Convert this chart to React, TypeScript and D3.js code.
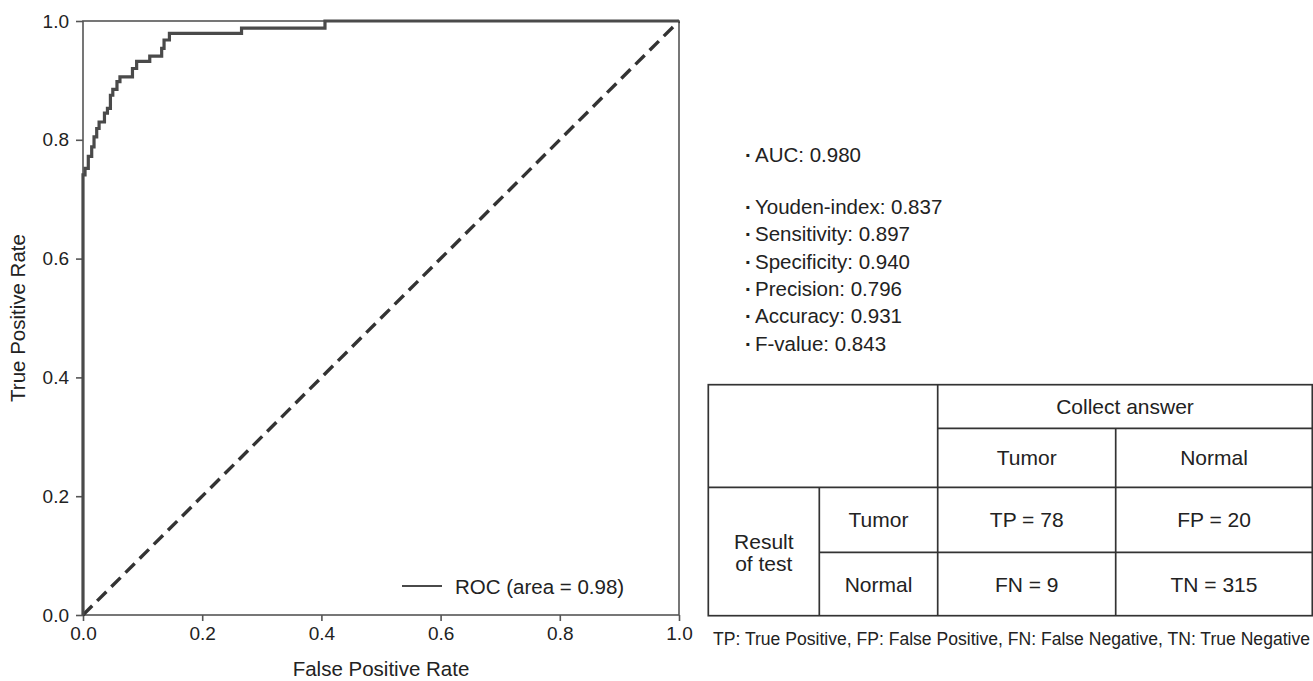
import {useEffect, useRef} from "react";
import * as d3 from "d3";

// ROC corner points, drawn with a step-after curve
const fpr = [0, 0, 0.0034, 0.0089, 0.0146, 0.0185, 0.023, 0.027, 0.036, 0.041, 0.046, 0.05, 0.057, 0.062, 0.083, 0.09, 0.112, 0.132, 0.136, 0.145, 0.266, 0.406, 1.0];
const tpr = [0, 0.741, 0.752, 0.772, 0.788, 0.805, 0.819, 0.83, 0.845, 0.853, 0.875, 0.885, 0.898, 0.906, 0.92, 0.932, 0.941, 0.954, 0.968, 0.979, 0.988, 1.0, 1.0];

const axisTicks = [0, 0.2, 0.4, 0.6, 0.8, 1.0];
const legendLabel = "ROC (area = 0.98)";

const summaryLabels = ["AUC"];
const summaryValues = ["0.980"];
const metricLabels = ["Youden-index", "Sensitivity", "Specificity", "Precision", "Accuracy", "F-value"];
const metricValues = ["0.837", "0.897", "0.940", "0.796", "0.931", "0.843"];

const answerClasses = ["Tumor", "Normal"];
const testClasses = ["Tumor", "Normal"];
const cellNames = [["TP", "FP"], ["FN", "TN"]];
const cellCounts = [[78, 20], [9, 315]];
const footnote = "TP: True Positive, FP: False Positive, FN: False Negative, TN: True Negative";

const FONT = "'Liberation Sans', Arial, Helvetica, sans-serif";

function RocFigure() {
    const ref = useRef<SVGSVGElement>(null);

    useEffect(() => {
        const svg = d3.select(ref.current);
        svg.selectAll("*").remove();

        // plot area
        const x = d3.scaleLinear().domain([0, 1]).range([83, 679]);
        const y = d3.scaleLinear().domain([0, 1]).range([615, 21]);

        const plot = svg.append("g").attr("font-family", FONT).attr("fill", "#222");

        // frame
        plot.append("rect")
            .attr("x", x(0)).attr("y", y(1))
            .attr("width", x(1) - x(0)).attr("height", y(0) - y(1))
            .attr("fill", "none").attr("stroke", "#555").attr("stroke-width", 1.6);

        // x axis
        const xAxis = plot.append("g")
            .attr("transform", `translate(0,${y(0)})`)
            .call(d3.axisBottom(x).tickValues(axisTicks).tickFormat(d3.format(".1f")).tickSize(6).tickPadding(6));
        xAxis.select(".domain").remove();
        xAxis.selectAll("line").attr("stroke", "#555").attr("stroke-width", 1.6);
        xAxis.selectAll("text").attr("font-size", 19).attr("font-family", FONT).attr("fill", "#222");

        // y axis
        const yAxis = plot.append("g")
            .attr("transform", `translate(${x(0)},0)`)
            .call(d3.axisLeft(y).tickValues(axisTicks).tickFormat(d3.format(".1f")).tickSize(7).tickPadding(7));
        yAxis.select(".domain").remove();
        yAxis.selectAll("line").attr("stroke", "#555").attr("stroke-width", 1.6);
        yAxis.selectAll("text").attr("font-size", 19).attr("font-family", FONT).attr("fill", "#222");

        plot.append("text")
            .attr("x", (x(0) + x(1)) / 2).attr("y", 676)
            .attr("text-anchor", "middle").attr("font-size", 20.5)
            .text("False Positive Rate");

        plot.append("text")
            .attr("transform", `translate(25,${(y(0) + y(1)) / 2}) rotate(-90)`)
            .attr("text-anchor", "middle").attr("font-size", 20.5)
            .text("True Positive Rate");

        // chance diagonal
        plot.append("line")
            .attr("x1", x(0)).attr("y1", y(0)).attr("x2", x(1)).attr("y2", y(1))
            .attr("stroke", "#333").attr("stroke-width", 3.4)
            .attr("stroke-dasharray", "13,7");

        // ROC curve
        const pts = fpr.map((f, i) => [f, tpr[i]] as [number, number]);
        const line = d3.line<[number, number]>()
            .x(d => x(d[0])).y(d => y(d[1]))
            .curve(d3.curveStepAfter);
        plot.append("path")
            .attr("d", line(pts))
            .attr("fill", "none").attr("stroke", "#4a4a4a").attr("stroke-width", 3.2)
            .attr("stroke-linejoin", "miter");

        // legend
        plot.append("line")
            .attr("x1", 402).attr("x2", 442).attr("y1", 586).attr("y2", 586)
            .attr("stroke", "#4a4a4a").attr("stroke-width", 2);
        plot.append("text")
            .attr("x", 455).attr("y", 593.5).attr("font-size", 20.5)
            .text(legendLabel);

        // metrics block
        const info = svg.append("g").attr("font-family", FONT).attr("fill", "#222").attr("font-size", 20.5);
        const addItem = (label: string, value: string, base: number) => {
            info.append("text").attr("x", 745).attr("y", base).attr("font-weight", "bold").text("·");
            info.append("text").attr("x", 755).attr("y", base).text(`${label}: ${value}`);
        };
        summaryLabels.forEach((l, i) => addItem(l, summaryValues[i], 162 + i * 27.3));
        metricLabels.forEach((l, i) => addItem(l, metricValues[i], 214 + i * 27.3));

        // confusion table
        const colEdges = [708.3, 819.3, 937.7, 1115.7, 1312.3];
        const rowEdges = [384.7, 428.3, 487.3, 552.3, 615.7];
        const table = svg.append("g").attr("font-family", FONT).attr("fill", "#222").attr("font-size", 21);
        const stroke = (x1: number, y1: number, x2: number, y2: number) =>
            table.append("line").attr("x1", x1).attr("y1", y1).attr("x2", x2).attr("y2", y2)
                .attr("stroke", "#333").attr("stroke-width", 1.7);

        table.append("rect")
            .attr("x", colEdges[0]).attr("y", rowEdges[0])
            .attr("width", colEdges[4] - colEdges[0]).attr("height", rowEdges[4] - rowEdges[0])
            .attr("fill", "none").attr("stroke", "#333").attr("stroke-width", 1.7);
        stroke(colEdges[2], rowEdges[0], colEdges[2], rowEdges[4]);
        stroke(colEdges[2], rowEdges[1], colEdges[4], rowEdges[1]);
        stroke(colEdges[0], rowEdges[2], colEdges[4], rowEdges[2]);
        stroke(colEdges[3], rowEdges[1], colEdges[3], rowEdges[4]);
        stroke(colEdges[1], rowEdges[2], colEdges[1], rowEdges[4]);
        stroke(colEdges[1], rowEdges[3], colEdges[4], rowEdges[3]);

        const cellText = (cx: number, cy: number, t: string) =>
            table.append("text").attr("x", cx).attr("y", cy)
                .attr("text-anchor", "middle").attr("dominant-baseline", "central").text(t);
        const mid = (a: number, b: number) => (a + b) / 2;

        cellText(mid(colEdges[2], colEdges[4]), mid(rowEdges[0], rowEdges[1]), "Collect answer");
        answerClasses.forEach((c, j) => cellText(mid(colEdges[2 + j], colEdges[3 + j]), mid(rowEdges[1], rowEdges[2]), c));
        testClasses.forEach((c, i) => cellText(mid(colEdges[1], colEdges[2]), mid(rowEdges[2 + i], rowEdges[3 + i]), c));
        cellText(mid(colEdges[0], colEdges[1]), rowEdges[3] - 11, "Result");
        cellText(mid(colEdges[0], colEdges[1]), rowEdges[3] + 11, "of test");
        cellCounts.forEach((row, i) => row.forEach((v, j) =>
            cellText(mid(colEdges[2 + j], colEdges[3 + j]), mid(rowEdges[2 + i], rowEdges[3 + i]), `${cellNames[i][j]} = ${v}`)));

        table.append("text")
            .attr("x", 713).attr("y", 645).attr("font-size", 17.5)
            .attr("textLength", 597).attr("lengthAdjust", "spacingAndGlyphs")
            .text(footnote);
    }, []);

    return <svg ref={ref} width={1313} height={681}
                style={{position: "absolute", left: 0, top: 0, background: "#fff"}}/>;
}

export default function App() {
    return <RocFigure/>;
}
